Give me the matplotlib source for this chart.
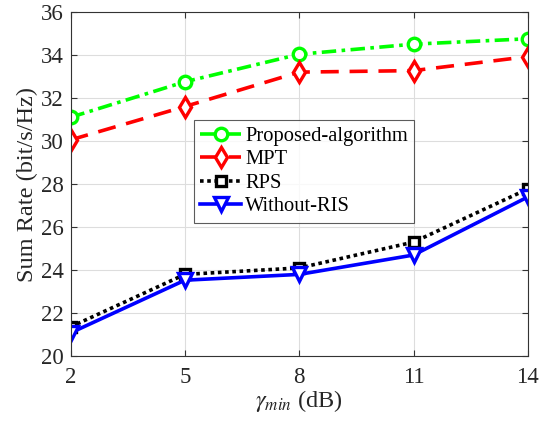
import matplotlib
matplotlib.use('Agg')
import matplotlib.pyplot as plt

# data
gamma = [2, 5, 8, 11, 14]
proposed = [31.1, 32.75, 34.03, 34.5, 34.75]
mpt = [30.05, 31.6, 33.2, 33.27, 33.92]
rps = [21.36, 23.8, 24.1, 25.3, 27.77]
no_ris = [21.08, 23.53, 23.8, 24.7, 27.4]

plt.rcParams['font.family'] = ['Liberation Serif', 'DejaVu Serif']
plt.rcParams['mathtext.fontset'] = 'stix'

fig, ax = plt.subplots(figsize=(5.51, 4.24), dpi=100)
fig.subplots_adjust(left=0.128, right=0.958, top=0.972, bottom=0.16)

ax.plot(gamma, proposed, color='#00ff00', ls=(0, (4, 1.5, 1, 1.5)), lw=2.6,
        marker='o', ms=9, mfc='white', mew=2.4, label='Proposed-algorithm')
ax.plot(gamma, mpt, color='#ff0000', ls=(0, (5, 3)), lw=2.6,
        marker='d', ms=10, mfc='white', mew=2.4, label='MPT')
ax.plot(gamma, rps, color='black', ls=(0, (1, 1)), lw=2.6,
        marker='s', ms=7, mfc='white', mew=2.4, label='RPS')
ax.plot(gamma, no_ris, color='#0000ff', ls='-', lw=2.6,
        marker='v', ms=10, mfc='white', mew=2.4, label='Without-RIS')

ax.set_xlim(2, 14)
ax.set_ylim(20, 36)
ax.set_xticks(gamma)
ax.set_yticks(range(20, 37, 2))
ax.grid(True, color='#dddddd', lw=0.8)
ax.tick_params(labelsize=16.5, direction='in', length=4, color='#333333',
               labelcolor='#262626', top=True, right=True)
ax.tick_params(axis='x', pad=8)
ax.tick_params(axis='y', pad=5)
for s in ax.spines.values():
    s.set_color('#333333')
    s.set_linewidth(0.8)

ax.set_xlabel(r'$\gamma_{min}$ (dB)', fontsize=17.5, color='#262626', labelpad=0)
ax.set_ylabel('Sum Rate (bit/s/Hz)', fontsize=17.5, color='#262626', labelpad=2)

leg = ax.legend(loc='upper left', bbox_to_anchor=(0.27, 0.685), fontsize=14.8,
                frameon=True, fancybox=False, edgecolor='#333333',
                handlelength=2.0, handletextpad=0.2, borderpad=0.3,
                labelspacing=0.2, borderaxespad=0)
leg.get_frame().set_linewidth(0.8)

fig.savefig('out.png', dpi=100)
